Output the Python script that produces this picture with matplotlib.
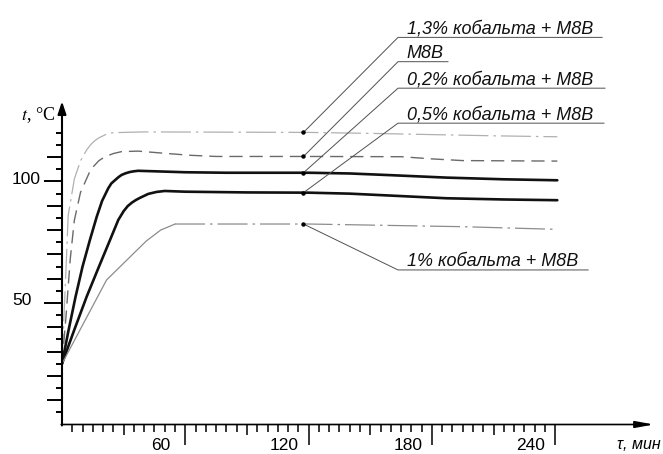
import numpy as np
import matplotlib.pyplot as plt

plt.rcParams['font.family'] = ['Liberation Sans', 'DejaVu Sans']
plt.rcParams['mathtext.fontset'] = 'stix'

# --- heating curves, t (min) vs temperature (°C) ---
t_13 = [0, 1, 2, 3, 6, 9, 12, 14, 16, 18, 20, 22, 25, 40, 80, 120, 150, 180,
        210, 241]
y_13 = [25, 45, 65, 86, 101, 108.5, 113, 115.2, 116.8, 118, 118.8, 119.6,
        120.1, 120.4, 120.3, 120.2, 119.8, 119.3, 118.8, 118.4]

t_m8v = [0, 2, 4, 6, 9, 14, 18, 21, 25, 29, 37, 50, 62, 75, 120, 165, 180,
         195, 241]
y_m8v = [25, 45, 68, 84, 95.5, 105, 108.6, 110.2, 111.5, 112.3, 112.5, 111.6,
         110.8, 110.3, 110.3, 110.2, 109.3, 108.6, 108.4]

t_02 = [0, 3, 6.6, 10, 13.6, 16.9, 19.5, 22.5, 24, 26, 27.5, 29, 31, 33, 35,
        37, 45, 60, 80, 120, 140, 160, 187, 215, 241]
y_02 = [25, 38, 52.6, 65, 76, 85.5, 92, 97.2, 99.2, 100.7, 101.8, 102.7,
        103.4, 103.9, 104.2, 104.4, 104.2, 103.8, 103.6, 103.6, 103.3, 102.6,
        101.6, 100.9, 100.5]

t_05 = [0, 6, 12, 18, 23.4, 27.4, 30, 32, 34, 36, 38, 42, 46, 50, 60, 90,
        120, 140, 160, 187, 215, 241]
y_05 = [25, 39, 52.6, 65, 76, 84.2, 87.8, 89.9, 91.3, 92.4, 93.3, 94.9, 95.7,
        96.1, 95.8, 95.5, 95.4, 95.0, 94.2, 93.1, 92.6, 92.3]

t_10_rise = [0, 21.7, 41, 48, 55]
y_10_rise = [25, 59.5, 75.5, 80, 82.5]
t_10_flat = [55, 120, 195, 241]
y_10_flat = [82.5, 82.5, 81.4, 80.3]

labels = ["1,3% кобальта + М8В", "М8В", "0,2% кобальта + М8В",
          "0,5% кобальта + М8В", "1% кобальта + М8В"]

x_major = [60, 120, 180, 240]
x_mid = [30, 90, 150, 210]
x_minor = [v for v in range(5, 241, 5) if v % 30]
y_major = [50, 100]
y_long = [v for v in range(10, 111, 10) if v % 50]
y_short = list(range(5, 120, 10)) + [120]

# leader layout: (underline height, underline right end)
leader_y = [159.3, 149.3, 138.4, 124.0, 63.6]
leader_end = [262.8, 187.8, 264.2, 263.7, 256.0]
leader_x0, leader_x1, text_x = 117.5, 163.5, 167.7

fig = plt.figure(figsize=(6.63, 4.54), dpi=100)
ax = fig.add_axes([62 / 663, 29.5 / 454, 596 / 663, 323.2 / 454])
ax.set_xlim(0, 290)
ax.set_ylim(0, 133)
for s in ax.spines.values():
    s.set_visible(False)

# curves
ax.plot(t_13, y_13, color='#b0b0b0', lw=0.9, ls=(0, (24, 4, 2, 4)))
ax.plot(t_m8v, y_m8v, color='#6a6a6a', lw=1.0, ls=(0, (9.5, 5)))
ax.plot(t_02, y_02, color='#111111', lw=1.9, solid_capstyle='round')
ax.plot(t_05, y_05, color='#111111', lw=1.9, solid_capstyle='round')
ax.plot(t_10_rise, y_10_rise, color='#8c8c8c', lw=0.9)
ax.plot(t_10_flat, y_10_flat, color='#8c8c8c', lw=0.9, ls=(0, (24, 4, 2, 4)))

# leaders with labels
series = [(t_13, y_13), (t_m8v, y_m8v), (t_02, y_02), (t_05, y_05),
          (t_10_flat, y_10_flat)]
for (tt, yy), lab, ly, lx in zip(series, labels, leader_y, leader_end):
    yd = np.interp(leader_x0, tt, yy)
    ax.plot([leader_x0, leader_x1, lx], [yd, ly, ly], color='#505050',
            lw=0.7, clip_on=False)
    ax.plot(leader_x0, yd, 'o', color='black', ms=2.2, clip_on=False)
    ax.text(text_x, ly + 1.5, lab, fontsize=13, style='italic',
            ha='left', va='baseline', color='#111111')

# axes with arrows
ax.annotate('', xy=(0, 133), xytext=(0, -0.4), annotation_clip=False,
            arrowprops=dict(arrowstyle='-|>,head_length=0.75,head_width=0.25',
                            lw=1.5, color='black', mutation_scale=10,
                            shrinkA=0, shrinkB=0))
ax.annotate('', xy=(288, 0), xytext=(-0.4, 0), annotation_clip=False,
            arrowprops=dict(arrowstyle='-|>,head_length=1.1,head_width=0.2',
                            lw=1.2, color='black', mutation_scale=10,
                            shrinkA=0, shrinkB=0))

# ticks: three lengths on each axis
ax.set_xticks(x_major)
ax.set_xticklabels([])
ax.set_xticks(x_minor, minor=True)
ax.tick_params(axis='x', which='major', length=14.4, width=1.1)
ax.tick_params(axis='x', which='minor', length=5, width=1.1)
secx = ax.secondary_xaxis('bottom')
secx.set_xticks(x_mid)
secx.tick_params(length=7.2, width=1.1, labelbottom=False)
secx.spines['bottom'].set_visible(False)

ax.set_yticks(y_major)
ax.set_yticklabels([])
ax.set_yticks(y_short, minor=True)
ax.tick_params(axis='y', which='major', length=13, width=1.4)
ax.tick_params(axis='y', which='minor', length=4.3, width=1.4)
secy = ax.secondary_yaxis('left')
secy.set_yticks(y_long)
secy.tick_params(length=10.8, width=1.4, labelleft=False)
secy.spines['left'].set_visible(False)

# tick labels
for v in x_major:
    ax.text(v - 11.8, -8.6, str(v), fontsize=12.5, ha='center', va='center')
for v in y_major:
    ax.text(-24.3, v + 0.9, str(v), fontsize=12.5, ha='left', va='center')

# axis titles
ax.text(-3.2, 125.3, r'$t$, °C', fontsize=13, ha='right', va='baseline',
        family='Liberation Serif')
ax.text(270, -8.2, 'τ, мин', fontsize=11.5, style='italic', ha='left',
        va='center')

fig.savefig('out.png', dpi=100)
